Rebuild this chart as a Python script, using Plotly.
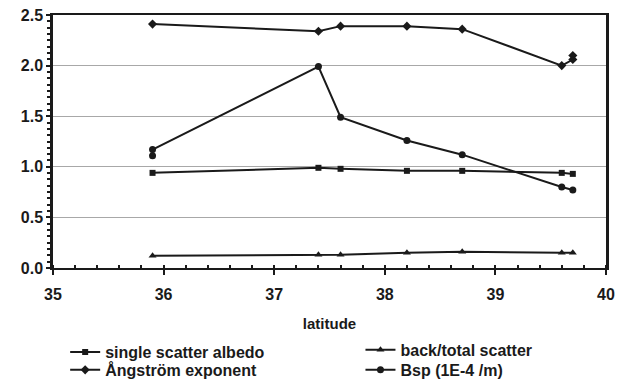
import plotly.graph_objects as go

latitude = [35.9, 37.4, 37.6, 38.2, 38.7, 39.6, 39.7]
albedo = [0.94, 0.99, 0.98, 0.96, 0.96, 0.94, 0.93]
back_total = [0.12, 0.13, 0.13, 0.15, 0.16, 0.15, 0.15]

angstrom_lat = [35.9, 37.4, 37.6, 38.2, 38.7, 39.6, 39.7, 39.7]
angstrom = [2.41, 2.34, 2.39, 2.39, 2.36, 2.0, 2.06, 2.1]

bsp_lat = [35.9, 35.9, 37.4, 37.6, 38.2, 38.7, 39.6, 39.7]
bsp = [1.11, 1.17, 1.99, 1.49, 1.26, 1.12, 0.80, 0.77]

FONT = "Liberation Sans"
BLACK = "#1a1a1a"

fig = go.Figure()


def add_series(x, y, name, symbol, size, legend):
    fig.add_trace(
        go.Scatter(
            x=x,
            y=y,
            mode="lines+markers",
            name=name,
            line=dict(color=BLACK, width=2),
            marker=dict(symbol=symbol, size=size, color=BLACK),
            legend=legend,
        )
    )


add_series(latitude, albedo, "single scatter albedo", "square", 6, "legend")
add_series(angstrom_lat, angstrom, "Ångström exponent", "diamond", 7, "legend2")
add_series(latitude, back_total, "back/total scatter", "triangle-up", 7, "legend3")
add_series(bsp_lat, bsp, "Bsp (1E-4 /m)", "circle", 7, "legend4")

# one legend per entry so the rows can sit as tight as in the original
legend_style = dict(
    font=dict(family=FONT, size=16, color=BLACK, weight="bold"),
    bgcolor="rgba(0,0,0,0)",
    itemsizing="trace",
    itemwidth=30,
    borderwidth=0,
    yanchor="middle",
    xanchor="left",
)

# the page body adds an 8px offset, so margins are shifted to compensate
fig.update_layout(
    width=628,
    height=382,
    margin=dict(l=45, r=30, t=7, b=122, autoexpand=False),
    paper_bgcolor="white",
    plot_bgcolor="white",
    font=dict(family=FONT, color=BLACK),
    showlegend=True,
    legend=dict(x=0.022, y=-0.332, **legend_style),
    legend2=dict(x=0.022, y=-0.403, **legend_style),
    legend3=dict(x=0.556, y=-0.324, **legend_style),
    legend4=dict(x=0.556, y=-0.403, **legend_style),
    xaxis=dict(
        range=[35, 40],
        dtick=1,
        automargin=False,
        showgrid=False,
        zeroline=False,
        showline=True,
        linecolor=BLACK,
        linewidth=2,
        mirror=True,
        ticks="outside",
        ticklen=5,
        tickwidth=2,
        tickcolor=BLACK,
        ticklabelstandoff=6,
        ticklabeloverflow="allow",
        minor=dict(dtick=0.2, ticks="inside", ticklen=3, tickwidth=2, tickcolor=BLACK),
        tickfont=dict(family=FONT, size=16, color=BLACK, weight="bold"),
        title=dict(text="latitude", font=dict(family=FONT, size=15, color=BLACK, weight="bold"), standoff=16),
    ),
    yaxis=dict(
        range=[0, 2.5],
        dtick=0.5,
        tickformat=".1f",
        automargin=False,
        showgrid=True,
        gridcolor="#a8a8a8",
        gridwidth=1,
        zeroline=False,
        showline=True,
        linecolor=BLACK,
        linewidth=2.5,
        mirror=True,
        ticks="outside",
        ticklen=4,
        tickwidth=2,
        tickcolor=BLACK,
        ticklabelstandoff=0,
        ticklabeloverflow="allow",
        minor=dict(dtick=0.0625, ticks="outside", ticklen=3, tickwidth=2, tickcolor=BLACK),
        tickfont=dict(family=FONT, size=16, color=BLACK, weight="bold"),
    ),
)

fig.write_html("out.html")
